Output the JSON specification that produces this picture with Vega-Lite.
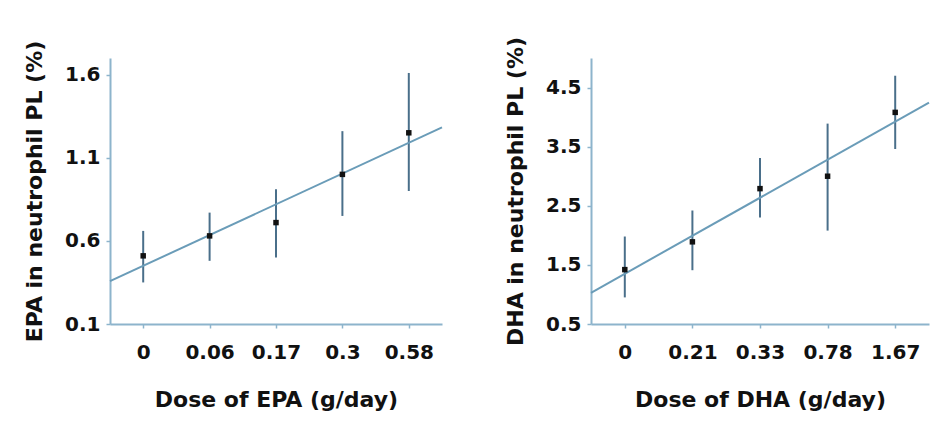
{
  "$schema": "https://vega.github.io/schema/vega-lite/v6.json",
  "background": "white",
  "padding": {"left": 23, "top": 36, "right": 5, "bottom": 5},
  "datasets": {
    "epa": [
      {"idx": 0, "dose": "0", "mean": 0.51, "lo": 0.35, "hi": 0.66},
      {"idx": 1, "dose": "0.06", "mean": 0.63, "lo": 0.48, "hi": 0.77},
      {"idx": 2, "dose": "0.17", "mean": 0.71, "lo": 0.50, "hi": 0.91},
      {"idx": 3, "dose": "0.3", "mean": 1.00, "lo": 0.75, "hi": 1.26},
      {"idx": 4, "dose": "0.58", "mean": 1.25, "lo": 0.90, "hi": 1.61}
    ],
    "dha": [
      {"idx": 0, "dose": "0", "mean": 1.42, "lo": 0.95, "hi": 1.98},
      {"idx": 1, "dose": "0.21", "mean": 1.89, "lo": 1.41, "hi": 2.42},
      {"idx": 2, "dose": "0.33", "mean": 2.79, "lo": 2.30, "hi": 3.31},
      {"idx": 3, "dose": "0.78", "mean": 3.00, "lo": 2.08, "hi": 3.89},
      {"idx": 4, "dose": "1.67", "mean": 4.08, "lo": 3.46, "hi": 4.70}
    ]
  },
  "spacing": 58,
  "hconcat": [
    {
      "width": 332,
      "height": 266,
      "data": {"name": "epa"},
      "layer": [
        {
          "mark": {"type": "rule", "color": "#4a6f8a", "strokeWidth": 2},
          "encoding": {
            "x": {"field": "idx", "type": "quantitative"},
            "y": {"field": "lo", "type": "quantitative"},
            "y2": {"field": "hi"}
          }
        },
        {
          "transform": [{"regression": "mean", "on": "idx", "extent": [-0.5, 4.5]}],
          "mark": {"type": "line", "color": "#6a9cb8", "strokeWidth": 2},
          "encoding": {
            "x": {"field": "idx", "type": "quantitative"},
            "y": {"field": "mean", "type": "quantitative"}
          }
        },
        {
          "mark": {"type": "point", "shape": "square", "filled": true, "color": "#111111", "size": 30, "opacity": 1},
          "encoding": {
            "x": {"field": "idx", "type": "quantitative",
              "scale": {"domain": [-0.5, 4.5], "nice": false, "zero": false},
              "axis": {"values": [0, 1, 2, 3, 4], "labelExpr": "['0','0.06','0.17','0.3','0.58'][datum.value]", "title": "Dose of EPA (g/day)"}},
            "y": {"field": "mean", "type": "quantitative",
              "scale": {"domain": [0.1, 1.7], "nice": false, "zero": false},
              "axis": {"values": [0.1, 0.6, 1.1, 1.6], "format": ".1f", "title": "EPA in neutrophil PL (%)"}}
          }
        }
      ]
    },
    {
      "width": 338,
      "height": 266,
      "data": {"name": "dha"},
      "layer": [
        {
          "mark": {"type": "rule", "color": "#4a6f8a", "strokeWidth": 2},
          "encoding": {
            "x": {"field": "idx", "type": "quantitative"},
            "y": {"field": "lo", "type": "quantitative"},
            "y2": {"field": "hi"}
          }
        },
        {
          "transform": [{"regression": "mean", "on": "idx", "extent": [-0.5, 4.5]}],
          "mark": {"type": "line", "color": "#6a9cb8", "strokeWidth": 2},
          "encoding": {
            "x": {"field": "idx", "type": "quantitative"},
            "y": {"field": "mean", "type": "quantitative"}
          }
        },
        {
          "mark": {"type": "point", "shape": "square", "filled": true, "color": "#111111", "size": 30, "opacity": 1},
          "encoding": {
            "x": {"field": "idx", "type": "quantitative",
              "scale": {"domain": [-0.5, 4.5], "nice": false, "zero": false},
              "axis": {"values": [0, 1, 2, 3, 4], "labelExpr": "['0','0.21','0.33','0.78','1.67'][datum.value]", "title": "Dose of DHA (g/day)"}},
            "y": {"field": "mean", "type": "quantitative",
              "scale": {"domain": [0.5, 5.0], "nice": false, "zero": false},
              "axis": {"values": [0.5, 1.5, 2.5, 3.5, 4.5], "format": ".1f", "title": "DHA in neutrophil PL (%)"}}
          }
        }
      ]
    }
  ],
  "config": {
    "view": {"stroke": null},
    "axis": {
      "grid": false,
      "domainColor": "#8db4cc",
      "domainWidth": 2,
      "tickColor": "#8db4cc",
      "tickWidth": 1.5,
      "tickSize": 4,
      "labelFont": "DejaVu Sans",
      "labelFontWeight": "bold",
      "labelFontSize": 20,
      "labelColor": "#111111",
      "titleFont": "DejaVu Sans",
      "titleFontWeight": "bold",
      "titleFontSize": 22,
      "titleColor": "#111111"
    },
    "axisX": {"labelPadding": 14, "titlePadding": 27},
    "axisY": {"labelPadding": 6, "titlePadding": 18}
  }
}
